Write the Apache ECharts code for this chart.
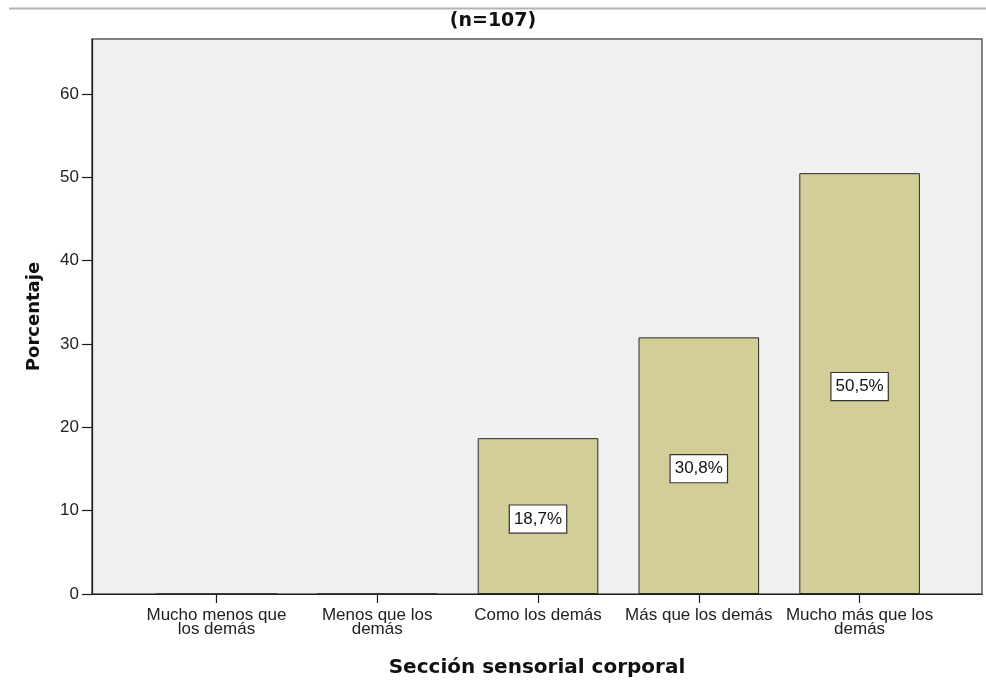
<!DOCTYPE html>
<html>
<head>
<meta charset="utf-8">
<script src="https://cdn.jsdelivr.net/npm/echarts@6/dist/echarts.min.js"></script>
<style>
  html, body { margin: 0; padding: 0; background: #ffffff; }
  #chart { width: 986px; height: 683px; }
</style>
</head>
<body>
<div id="chart"></div>
<script>
// Frequency of answers (percent of n=107) for the body-sensory section
const categories = [
  'Mucho menos que\nlos demás',
  'Menos que los\ndemás',
  'Como los demás',
  'Más que los demás',
  'Mucho más que los\ndemás'
];
const percentages = [0, 0, 18.7, 30.8, 50.5];
const yTicks = [0, 10, 20, 30, 40, 50, 60];

const chartTitle = '(n=107)';
const xTitle = 'Sección sensorial corporal';
const yTitle = 'Porcentaje';

const Y_MAX = 66.6;
const tickFont = 'Liberation Sans, Arial, sans-serif';
const titleFont = 'DejaVu Sans, Verdana, sans-serif';

const chart = echarts.init(document.getElementById('chart'), null, { renderer: 'canvas' });

const barData = percentages.map(v => ({ value: v, label: { show: v > 0 } }));

chart.setOption({
  animation: false,
  backgroundColor: '#ffffff',
  title: {
    text: chartTitle,
    left: 'center',
    top: 11,
    padding: 0,
    textStyle: { fontFamily: titleFont, fontWeight: 'bold', fontSize: 19, color: '#111', lineHeight: 20 }
  },
  graphic: [{
    type: 'line',
    shape: { x1: 9, y1: 8.5, x2: 986, y2: 8.5 },
    style: { stroke: '#b3b3b3', lineWidth: 2 },
    silent: true
  }],
  grid: [
    { left: 92, right: 4, top: 39, bottom: 89, show: true, backgroundColor: '#f0f0f0', borderColor: '#5a5a5a', borderWidth: 1.5 },
    { left: 136, right: 46, top: 39, bottom: 89 }
  ],
  xAxis: [
    {
      gridIndex: 0,
      type: 'category',
      data: [''],
      axisLine: { show: true, lineStyle: { color: '#1a1a1a', width: 1.2 } },
      axisTick: { show: false },
      axisLabel: { show: false },
      splitLine: { show: false },
      name: xTitle,
      nameLocation: 'middle',
      nameGap: 64,
      nameTextStyle: { fontFamily: titleFont, fontWeight: 'bold', fontSize: 20, color: '#111' }
    },
    {
      gridIndex: 1,
      type: 'category',
      data: categories,
      axisLine: { show: false },
      axisTick: { show: true, alignWithLabel: true, length: 9, lineStyle: { color: '#1a1a1a', width: 1.2 } },
      axisLabel: {
        interval: 0,
        margin: 14,
        fontFamily: tickFont,
        fontSize: 17,
        lineHeight: 14,
        color: '#222'
      },
      splitLine: { show: false }
    }
  ],
  yAxis: [
    {
      gridIndex: 0,
      type: 'value',
      min: 0,
      max: Y_MAX,
      interval: 10,
      axisLine: { show: true, lineStyle: { color: '#1a1a1a', width: 1.2 } },
      axisTick: { show: true, length: 10, customValues: yTicks, lineStyle: { color: '#1a1a1a', width: 1.2 } },
      axisLabel: {
        margin: 13,
        customValues: yTicks,
        fontFamily: tickFont,
        fontSize: 17,
        color: '#222'
      },
      splitLine: { show: false },
      name: yTitle,
      nameLocation: 'middle',
      nameRotate: 90,
      nameGap: 49,
      nameTextStyle: { fontFamily: titleFont, fontWeight: 'bold', fontSize: 18, color: '#111' }
    },
    {
      gridIndex: 1,
      type: 'value',
      min: 0,
      max: Y_MAX,
      interval: 10,
      show: false
    }
  ],
  series: [{
    type: 'bar',
    xAxisIndex: 1,
    yAxisIndex: 1,
    data: barData,
    barWidth: '75%',
    itemStyle: { color: '#d3ce97', borderColor: '#2a2a2a', borderWidth: 1 },
    label: {
      position: 'inside',
      offset: [0, 3],
      formatter: p => p.value.toFixed(1).replace('.', ',') + '%',
      fontFamily: tickFont,
      fontSize: 17,
      lineHeight: 17,
      color: '#111',
      backgroundColor: '#ffffff',
      borderColor: '#333333',
      borderWidth: 1.2,
      padding: [5, 4, 5, 4]
    }
  }]
});
</script>
</body>
</html>
